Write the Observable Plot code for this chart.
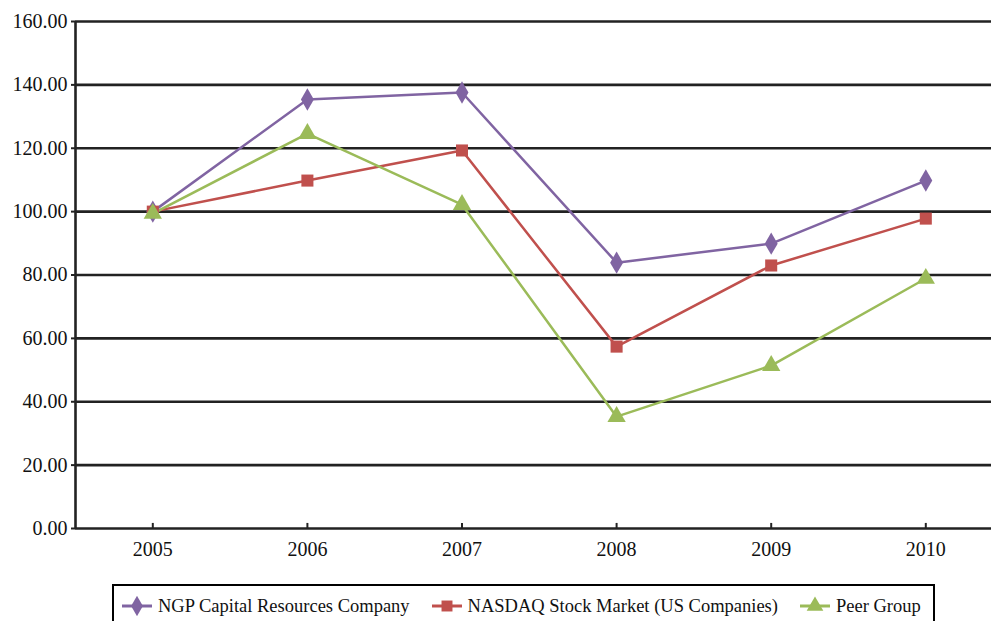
<!DOCTYPE html>
<html>
<head>
<meta charset="utf-8">
<script src="https://cdn.jsdelivr.net/npm/d3@7"></script>
<script src="https://cdn.jsdelivr.net/npm/@observablehq/plot@0.6"></script>
<style>
  html, body { margin: 0; background: #fff; font-family: "Liberation Serif", serif; overflow: hidden; }
  #chart svg { max-width: none !important; }
  #chart svg text { font-family: "Liberation Serif", serif !important; font-size: 20px !important; fill: #111; }
  #legend {
    margin-left: 112px; margin-top: 9px; width: 819px; height: 40px;
    border: 2px solid #000; box-sizing: content-box;
    display: flex; align-items: center; font-size: 18.5px; color: #111;
  }
  .item { display: flex; align-items: center; margin-left: 8px; margin-right: 14px; white-space: nowrap; }
  .item svg { margin-right: 6px; }
</style>
</head>
<body>
<div id="chart"></div>
<div id="legend"></div>
<script>
const years = [2005, 2006, 2007, 2008, 2009, 2010];
const seriesNames = ["NGP Capital Resources Company", "NASDAQ Stock Market (US Companies)", "Peer Group"];
const ngp = [100, 135.4, 137.6, 83.9, 89.9, 109.8];
const nasdaq = [100, 109.8, 119.3, 57.4, 83.0, 97.8];
const peer = [99.4, 124.6, 102.2, 35.3, 51.4, 78.9];
const colors = ["#8064A2", "#C0504D", "#9BBB59"];
const symbols = ["diamond", "square", "triangle"];
const yTicks = [0, 20, 40, 60, 80, 100, 120, 140, 160];

const table = [];
[ngp, nasdaq, peer].forEach((vals, i) => {
  vals.forEach((v, j) => table.push({series: seriesNames[i], year: years[j], value: v}));
});

const chart = Plot.plot({
  width: 991,
  height: 575,
  marginLeft: 75,
  marginRight: 0,
  marginTop: 21,
  marginBottom: 47,
  style: {fontFamily: "Liberation Serif, serif", fontSize: "20px", color: "#111", background: "#fff"},
  x: {domain: [2004.5, 2004.5 + 916 / 154.6], axis: null, label: null},
  y: {domain: [0, 160], axis: null, label: null},
  color: {domain: seriesNames, range: colors},
  symbol: {domain: seriesNames, range: symbols},
  marks: [
    Plot.ruleY(yTicks, {stroke: "#222", strokeWidth: 2.6}),
    Plot.ruleX([2004.5], {y1: 0, y2: 160, stroke: "#222", strokeWidth: 2.6}),
    Plot.axisY(yTicks, {tickFormat: d3.format(".2f"), tickSize: 4, tickPadding: 4, fontSize: 20, stroke: "#222", strokeWidth: 2, label: null}),
    Plot.ruleX(years, {y1: 0, y2: 1.6, stroke: "#222", strokeWidth: 2}),
    Plot.axisX(years, {tickFormat: "d", tickSize: 0, tickPadding: 13, fontSize: 20, label: null}),
    Plot.line(table, {x: "year", y: "value", z: "series", stroke: "series", strokeWidth: 2.5}),
    Plot.dot(table, {x: "year", y: "value", fill: "series", symbol: "series", r: 6.8, stroke: "none"})
  ]
});
document.getElementById("chart").appendChild(chart);

const legend = document.getElementById("legend");
const symPaths = seriesNames.map((s, i) => d3.symbol(d3.symbolsFill[["circle","cross","diamond","square","star","triangle","wye"].indexOf(symbols[i])], 120)());
seriesNames.forEach((name, i) => {
  const item = document.createElement("div");
  item.className = "item";
  item.innerHTML = `<svg width="30" height="20"><line x1="0" x2="30" y1="10" y2="10" stroke="${colors[i]}" stroke-width="3"/><path d="${symPaths[i]}" transform="translate(15,10)" fill="${colors[i]}"/></svg><span>${name}</span>`;
  legend.appendChild(item);
});
</script>
</body>
</html>
